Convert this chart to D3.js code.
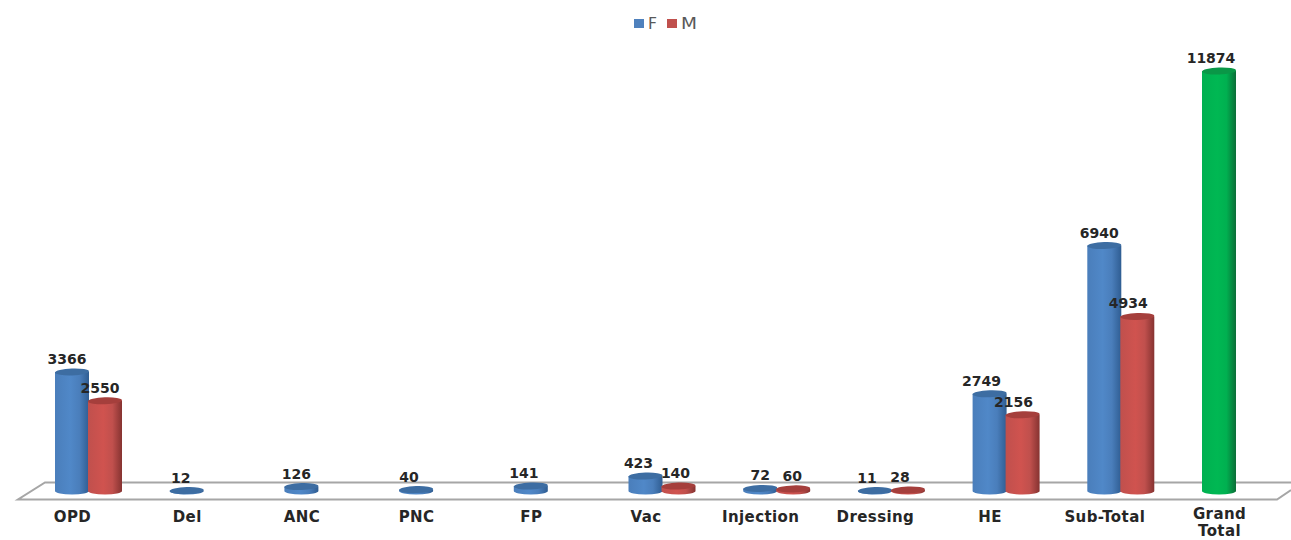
<!DOCTYPE html>
<html lang="en">
<head>
  <meta charset="UTF-8">
  <title>F and M counts by service</title>
  <script src="https://d3js.org/d3.v7.min.js"></script>
  <style>
    body { margin: 0; overflow: hidden; background: #fff; }
    svg { display: block; }
    text { font-family: "DejaVu Sans", sans-serif; }
    .cat text { font-size: 15px; font-weight: 700; fill: #262626; letter-spacing: 0.4px; }
    .val { font-size: 14px; font-weight: 700; fill: #262626; text-anchor: middle; }
    .leg { font-size: 15px; fill: #595959; }
  </style>
</head>
<body>
  <svg id="container"></svg>
  <script>
    // Values
    const categories = ["OPD", "Del", "ANC", "PNC", "FP", "Vac", "Injection", "Dressing", "HE", "Sub-Total", "Grand Total"];
    const femaleValues = [3366, 12, 126, 40, 141, 423, 72, 11, 2749, 6940];
    const maleValues = [2550, null, null, null, null, 140, 60, 28, 2156, 4934];
    const grandTotalValues = [null, null, null, null, null, null, null, null, null, null, 11874];

    const width = 1291, height = 540;
    const barW = 34, rx = 17, ry = 3.5;

    // the labels were moved by hand in the original, so each has its own shift
    const femaleLabelShift = [-5, -6, -5, -7, -7, -7, 0, -8, -8, -5];
    const maleLabelShift = [-5, 0, 0, 0, 0, -3, -1, -8, -9, -9];
    const grandLabelShift = [0, 0, 0, 0, 0, 0, 0, 0, 0, 0, -8];

    const svg = d3.select("#container").attr("width", width).attr("height", height);

    const x = d3.scalePoint().domain(categories).range([72, 1219]);
    const y = d3.scaleLinear().domain([0, 11874]).range([491, 71]);

    // cylinder shading
    const looks = {
      f: { edge: "#2f5d92", light: "#5088c8", mid: "#4a7ebb", top: "#3d6da2" },
      m: { edge: "#863331", light: "#d0534f", mid: "#c0504d", top: "#a53f3c" },
      g: { edge: "#0c6e38", light: "#00b853", mid: "#00b050", top: "#0a9747" }
    };
    const defs = svg.append("defs");
    Object.entries(looks).forEach(([k, c]) => {
      const grad = defs.append("linearGradient").attr("id", "cyl-" + k);
      [[0, c.mid], [0.45, c.light], [0.72, c.mid], [1, c.edge]].forEach(s => {
        grad.append("stop").attr("offset", s[0]).attr("stop-color", s[1]);
      });
    });

    // floor
    const floor = d3.line();
    svg.append("path")
      .attr("d", floor([[1291, 482.5], [45, 482.5], [18, 499.5], [1277, 499.5], [1291, 490]]))
      .attr("fill", "none").attr("stroke", "#a6a6a6").attr("stroke-width", 2);

    // category labels, two-line ones sit a little higher so they fit the page
    const axis = svg.append("g").attr("class", "cat")
      .attr("transform", "translate(0,510)")
      .call(d3.axisBottom(x).tickSize(0));
    axis.select(".domain").remove();
    axis.selectAll("text").each(function (d) {
      const words = d.split(" ");
      const t = d3.select(this).text(null).attr("y", 0);
      words.forEach((w, i) => t.append("tspan")
        .attr("x", 0)
        .attr("dy", i ? 17.5 : (words.length > 1 ? 8.5 : 12))
        .text(w));
    });

    function drawSeries(values, shifts, look, offset) {
      const rows = categories.map((c, i) => ({ c, v: values[i], shift: shifts[i] })).filter(d => d.v != null);
      const g = svg.append("g");
      const left = d => x(d.c) + offset - rx;
      const mid = d => x(d.c) + offset;
      g.selectAll("path").data(rows).join("path")
        .attr("d", d => {
          const top = y(d.v);
          return `M${left(d)},${top}V${y(0)}A${rx},${ry} 0 0 0 ${left(d) + barW},${y(0)}V${top}Z`;
        })
        .attr("fill", `url(#cyl-${look})`);
      g.selectAll("ellipse").data(rows).join("ellipse")
        .attr("cx", mid).attr("cy", d => y(d.v))
        .attr("rx", rx).attr("ry", ry)
        .attr("transform", d => `rotate(-2 ${mid(d)} ${y(d.v)})`)
        .attr("fill", looks[look].top);
      g.selectAll("text").data(rows).join("text")
        .attr("class", "val")
        .attr("x", d => mid(d) + d.shift)
        .attr("y", d => y(d.v) - 8)
        .text(d => d.v);
    }

    drawSeries(femaleValues, femaleLabelShift, "f", 0);
    drawSeries(maleValues, maleLabelShift, "m", barW - 1);
    drawSeries(grandTotalValues, grandLabelShift, "g", 0);

    // legend
    const legendItems = [
      { name: "F", color: "#4f81bd", at: 634, textW: 9 },
      { name: "M", color: "#c0504d", at: 667, textW: 16 }
    ];
    const legend = svg.append("g");
    legend.selectAll("rect").data(legendItems).join("rect")
      .attr("x", d => d.at).attr("y", 19).attr("width", 10).attr("height", 9)
      .attr("fill", d => d.color);
    legend.selectAll("text").data(legendItems).join("text")
      .attr("class", "leg")
      .attr("x", d => d.at + 14).attr("y", 29)
      .attr("textLength", d => d.textW)
      .attr("lengthAdjust", "spacingAndGlyphs")
      .text(d => d.name);
  </script>
</body>
</html>
